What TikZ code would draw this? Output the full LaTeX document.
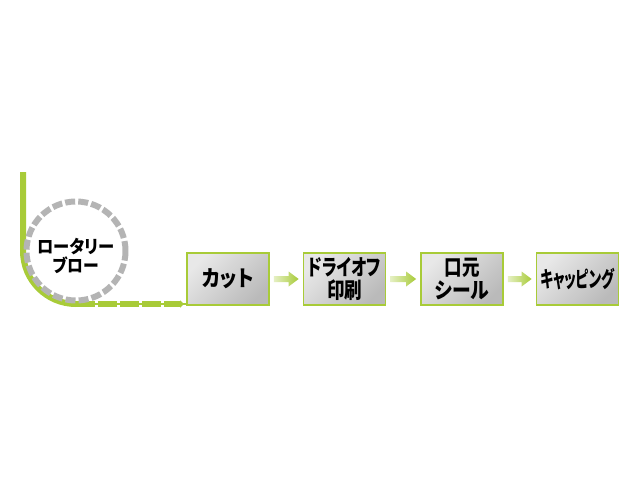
\documentclass[tikz,border=0pt]{standalone}
\usepackage{fontspec}
\usetikzlibrary{calc,arrows.meta}
\newfontfamily\jp{Noto Sans CJK JP}[BoldFont={Noto Sans CJK JP Black},RawFeature=+palt]
\definecolor{lime}{HTML}{A8CB38}
\definecolor{ringgray}{HTML}{B4B4B4}
\newsavebox\fitbox
\newcommand\fitw[2]{\sbox\fitbox{#2}\pgfmathsetmacro\fitfac{#1pt/\wd\fitbox}\scalebox{\fitfac}[1]{\usebox\fitbox}}
\newcommand\flowarrow[2]{\shade[left color=lime!30,right color=lime] let \p1=($(#1.east)+(4,0)$), \p2=($(#2.west)+(-4,0)$) in (\x1,\y1+3pt) -- (\x2-10pt,\y1+3pt) -- (\x2-10pt,\y1+7.5pt) -- (\x2,\y1) -- (\x2-10pt,\y1-7.5pt) -- (\x2-10pt,\y1-3pt) -- (\x1,\y1-3pt) -- cycle;}
\tikzset{
  stepbox/.style={draw=lime, line width=1.8pt, minimum width=82pt, minimum height=52pt,
    top color=black!9, bottom color=black!27, shading angle=45,
    font=\jp\bfseries\fontsize{22}{23.5}\selectfont, align=center, inner sep=0pt},
  greenline/.style={draw=lime, line width=6pt},
  ring/.style={circle, draw=ringgray, line width=6pt, minimum size=99pt, inner sep=0pt,
    dash pattern=on 10pt off 3.1pt},
  ringtext/.style={font=\jp\bfseries\fontsize{18}{17}\selectfont, align=center, inner sep=0pt}
}
\begin{document}
\begin{tikzpicture}[x=1pt,y=-1pt]
\fill[white] (0,0) rectangle (640,480);
\useasboundingbox (0,0) rectangle (640,480);
\node[stepbox] (b1) at (228,279) {\fitw{51}{カット}};
\node[stepbox] (b2) at (344.5,279) {\fitw{73}{ドライオフ}\\\fitw{35}{印刷}};
\node[stepbox] (b3) at (462,279) {\fitw{35}{口元}\\\fitw{54}{シール}};
\node[stepbox] (b4) at (577.5,279) {\fitw{74}{キャッピング}};
\flowarrow{b1}{b2}
\flowarrow{b2}{b3}
\flowarrow{b3}{b4}
\coordinate (gstart) at (23,172);
\coordinate (gbottom) at (76,304);
\draw[greenline] (gstart) -- (23,251) arc (180:90:53);
\draw[draw=lime, line width=2.5pt] (gbottom) -- (gbottom -| b1.west);
\draw[greenline, dash pattern=on 19pt off 3pt] (gbottom) -- ($(gbottom -| b1.west)+(-6,0)$);
\draw[draw=lime, line width=2pt, -{Triangle[length=4pt,width=7pt]}] ($(gbottom -| b1.west)+(-8,0)$) -- ($(gbottom -| b1.west)+(-2,0)$);
\node[ring] (rb) at (76,251) {};
\node[ringtext] (rbtext) at (76,256) {\fitw{77}{ロータリー}\\\fitw{46}{ブロー}};
\end{tikzpicture}
\end{document}
